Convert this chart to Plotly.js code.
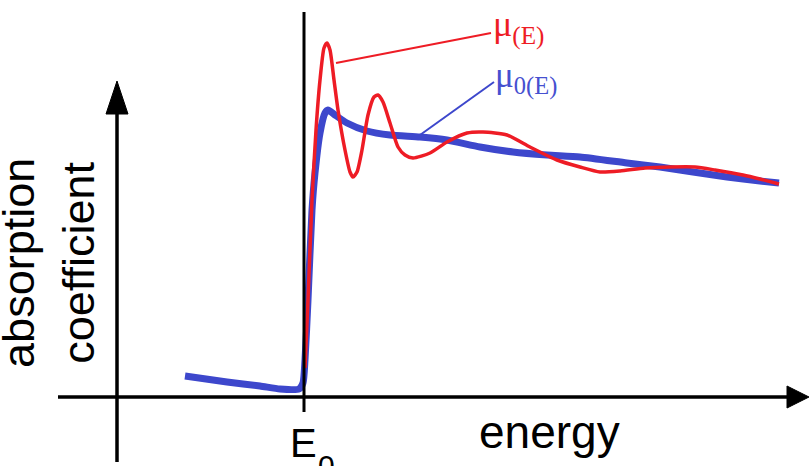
<!DOCTYPE html>
<html>
<head>
<meta charset="utf-8">
<script src="https://cdn.plot.ly/plotly-3.0.1.min.js"></script>
<style>html,body{margin:0;padding:0;background:#fff;}#chart{width:809px;height:466px;}</style>
</head>
<body>
<div id="chart"></div>
<script>
// Energy relative to the edge E0 (arbitrary units), absorption coefficient (arbitrary units)
var mu0Energy = [-1.19,-0.77,-0.44,-0.24,-0.05,-0.01,0.01,0.04,0.08,0.11,0.16,0.21,0.24,0.31,0.43,0.63,0.86,1.16,1.43,1.76,2.09,2.43,2.76,3.23,3.56,3.89,4.23,4.56,4.75];
var mu0Values = [0.21,0.15,0.11,0.08,0.08,0.14,0.37,0.97,1.87,2.24,2.64,2.84,2.87,2.82,2.74,2.66,2.62,2.60,2.57,2.50,2.45,2.42,2.40,2.34,2.30,2.25,2.20,2.16,2.14];

var muEnergy = [0.01,0.04,0.08,0.12,0.16,0.20,0.23,0.26,0.30,0.34,0.41,0.46,0.49,0.53,0.58,0.64,0.70,0.74,0.79,0.86,0.94,1.01,1.09,1.26,1.43,1.63,1.79,2.03,2.26,2.53,2.76,2.96,3.16,3.41,3.66,3.91,4.11,4.39,4.56,4.75];
var muValues = [0.29,0.97,1.97,2.67,3.17,3.49,3.54,3.47,3.17,2.87,2.47,2.25,2.20,2.25,2.47,2.82,3.00,3.02,2.95,2.74,2.50,2.42,2.39,2.44,2.55,2.64,2.65,2.62,2.50,2.37,2.30,2.25,2.26,2.29,2.30,2.30,2.27,2.22,2.18,2.13];

var edgeEnergy = 0;
var xLabel = 'energy';
var yLabelLines = ['absorption', 'coefficient'];
var edgeLabel = 'E';
var edgeSub = '0';

// layout helpers (pixel -> data)
var W = 809, H = 466, PX0 = 304, PY0 = 397, S = 100;
function X(px){ return (px - PX0) / S; }
function Y(py){ return (PY0 - py) / S; }

var RED = '#ee1c25', BLUE = '#3d47cc', BLUE_T = '#4650d0';

var traces = [
  {x: mu0Energy, y: mu0Values, mode: 'lines', line: {color: BLUE, width: 7, shape: 'spline', smoothing: 0.6}, hoverinfo: 'skip'},
  {x: muEnergy, y: muValues, mode: 'lines', line: {color: RED, width: 3.5, shape: 'spline', smoothing: 0.6}, hoverinfo: 'skip'}
];

var K = '#000';
var shapes = [
  // y axis
  {type: 'line', x0: X(117), x1: X(117), y0: Y(462), y1: Y(110), line: {color: K, width: 3.5}},
  {type: 'path', path: 'M ' + X(117) + ' ' + Y(81) + ' L ' + X(106) + ' ' + Y(114) + ' L ' + X(128) + ' ' + Y(114) + ' Z', fillcolor: K, line: {color: K, width: 1}},
  // x axis
  {type: 'line', x0: X(58), x1: X(792), y0: 0, y1: 0, line: {color: K, width: 3.5}},
  {type: 'path', path: 'M ' + X(809) + ' ' + Y(397) + ' L ' + X(787) + ' ' + Y(386) + ' L ' + X(787) + ' ' + Y(408) + ' Z', fillcolor: K, line: {color: K, width: 1}},
  // E0 line
  {type: 'line', x0: edgeEnergy, x1: edgeEnergy, y0: Y(412), y1: Y(12), line: {color: K, width: 3}},
  // leader lines
  {type: 'line', x0: X(336), y0: Y(63), x1: X(491), y1: Y(33), line: {color: RED, width: 2}},
  {type: 'line', x0: X(420), y0: Y(135), x1: X(494), y1: Y(82), line: {color: BLUE, width: 2}}
];

var sans = 'Liberation Sans, Arial, sans-serif';
var serif = 'Liberation Serif, Times New Roman, serif';
function ann(o){ return Object.assign({showarrow: false, borderpad: 0, borderwidth: 0, xref: 'x', yref: 'y'}, o); }

var annotations = [
  ann({text: xLabel, x: X(479), y: Y(448 - 0.3465*46), xanchor: 'left', yanchor: 'middle', font: {family: sans, size: 46, color: K}}),
  ann({text: yLabelLines[0], x: X(33.5 - 0.3465*45), y: Y(263), textangle: -90, xanchor: 'center', yanchor: 'middle', font: {family: sans, size: 45, color: K}}),
  ann({text: yLabelLines[1], x: X(93.3 - 0.3465*45), y: Y(263), textangle: -90, xanchor: 'center', yanchor: 'middle', font: {family: sans, size: 45, color: K}}),
  ann({text: edgeLabel, x: X(290), y: Y(457 - 0.3465*40), xanchor: 'left', yanchor: 'middle', font: {family: sans, size: 40, color: K}}),
  ann({text: edgeSub, x: X(318), y: Y(449), xanchor: 'left', yanchor: 'top', font: {family: sans, size: 30, color: K}}),
  ann({text: 'μ<sub>(E)</sub>', x: X(493), y: Y(50), xanchor: 'left', yanchor: 'bottom', font: {family: serif, size: 36, color: RED}}),
  ann({text: 'μ<sub>0(E)</sub>', x: X(495), y: Y(100), xanchor: 'left', yanchor: 'bottom', font: {family: serif, size: 35, color: BLUE_T}})
];

var layout = {
  width: W, height: H,
  margin: {l: 0, r: 0, t: 0, b: 0, pad: 0},
  paper_bgcolor: '#fff', plot_bgcolor: '#fff',
  showlegend: false,
  xaxis: {range: [X(0), X(W)], visible: false, fixedrange: true},
  yaxis: {range: [Y(H), Y(0)], visible: false, fixedrange: true},
  shapes: shapes,
  annotations: annotations
};

Plotly.newPlot('chart', traces, layout, {staticPlot: true, displayModeBar: false});
</script>
</body>
</html>
